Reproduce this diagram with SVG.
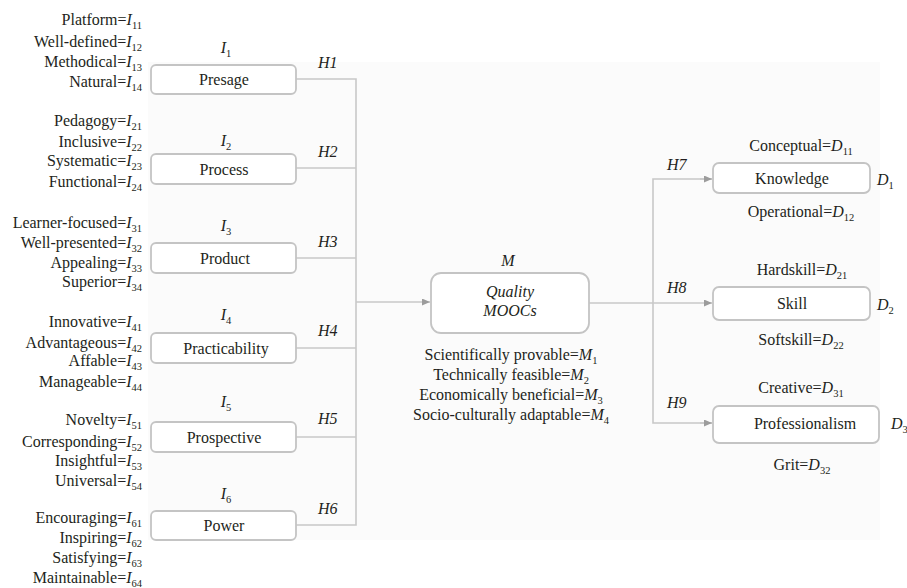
<svg xmlns="http://www.w3.org/2000/svg" width="907" height="588" viewBox="0 0 907 588" font-family="Liberation Serif, Times New Roman, serif" font-size="16">
<style>
text{font-family:"Liberation Serif","Times New Roman",serif;font-size:16px;fill:#231f20}
.l{text-anchor:end}
.m{text-anchor:middle}
.i{font-style:italic}
.n{font-style:normal}
.s{font-size:10.5px}
.box{fill:#fff;stroke:#c4c4c4;stroke-width:1.8}
.ln{fill:none;stroke:#c8c8c8;stroke-width:1.6}
</style>
<defs>
<marker id="ar" markerUnits="userSpaceOnUse" markerWidth="9" markerHeight="8" refX="8" refY="3.5" orient="auto">
<path d="M0,0 L8,3.5 L0,7 z" fill="#9c9c9c"/>
</marker>
</defs>
<rect x="148" y="62" width="732" height="478" fill="#fbfbfb"/>

<g id="connectors">
<polyline class="ln" points="296,79 356,79 356,525 296,525"/>
<line class="ln" x1="296" y1="168" x2="356" y2="168"/>
<line class="ln" x1="296" y1="258" x2="356" y2="258"/>
<line class="ln" x1="296" y1="348" x2="356" y2="348"/>
<line class="ln" x1="296" y1="437" x2="356" y2="437"/>
<line class="ln" x1="356" y1="302" x2="430" y2="302" marker-end="url(#ar)"/>
<line class="ln" x1="589" y1="303" x2="712" y2="303" marker-end="url(#ar)"/>
<polyline class="ln" points="712,179 653,179 653,423 712,423"/>
<line class="ln" x1="700" y1="179" x2="712" y2="179" marker-end="url(#ar)"/>
<line class="ln" x1="700" y1="423" x2="712" y2="423" marker-end="url(#ar)"/>
<text class="i" x="318" y="68">H1</text>
<text class="i" x="318" y="157">H2</text>
<text class="i" x="318" y="247">H3</text>
<text class="i" x="318" y="336">H4</text>
<text class="i" x="318" y="424">H5</text>
<text class="i" x="318" y="514">H6</text>
<text class="i" x="667" y="170">H7</text>
<text class="i" x="667" y="293">H8</text>
<text class="i" x="667" y="408">H9</text>
</g>

<g id="presage">
<rect class="box" x="151" y="65" width="145" height="29" rx="5"/>
<text class="m" x="224" y="85">Presage</text>
<text class="m i" x="226" y="53">I<tspan class="s n" dy="4">1</tspan></text>
<text class="l" x="142" y="25">Platform=<tspan class="i">I</tspan><tspan class="s" dy="4">11</tspan></text>
<text class="l" x="142" y="47">Well-defined=<tspan class="i">I</tspan><tspan class="s" dy="4">12</tspan></text>
<text class="l" x="142" y="67">Methodical=<tspan class="i">I</tspan><tspan class="s" dy="4">13</tspan></text>
<text class="l" x="142" y="87">Natural=<tspan class="i">I</tspan><tspan class="s" dy="4">14</tspan></text>
</g>

<g id="process">
<rect class="box" x="151" y="154" width="145" height="30" rx="5"/>
<text class="m" x="224" y="175">Process</text>
<text class="m i" x="226" y="146">I<tspan class="s n" dy="4">2</tspan></text>
<text class="l" x="142" y="126">Pedagogy=<tspan class="i">I</tspan><tspan class="s" dy="4">21</tspan></text>
<text class="l" x="142" y="147">Inclusive=<tspan class="i">I</tspan><tspan class="s" dy="4">22</tspan></text>
<text class="l" x="142" y="166">Systematic=<tspan class="i">I</tspan><tspan class="s" dy="4">23</tspan></text>
<text class="l" x="142" y="187">Functional=<tspan class="i">I</tspan><tspan class="s" dy="4">24</tspan></text>
</g>

<g id="product">
<rect class="box" x="151" y="243" width="145" height="30" rx="5"/>
<text class="m" x="225" y="264">Product</text>
<text class="m i" x="226" y="231">I<tspan class="s n" dy="4">3</tspan></text>
<text class="l" x="142" y="228">Learner-focused=<tspan class="i">I</tspan><tspan class="s" dy="4">31</tspan></text>
<text class="l" x="142" y="248">Well-presented=<tspan class="i">I</tspan><tspan class="s" dy="4">32</tspan></text>
<text class="l" x="142" y="268">Appealing=<tspan class="i">I</tspan><tspan class="s" dy="4">33</tspan></text>
<text class="l" x="142" y="287">Superior=<tspan class="i">I</tspan><tspan class="s" dy="4">34</tspan></text>
</g>

<g id="practicability">
<rect class="box" x="151" y="333" width="145" height="30" rx="5"/>
<text class="m" x="226" y="354">Practicability</text>
<text class="m i" x="226" y="320">I<tspan class="s n" dy="4">4</tspan></text>
<text class="l" x="142" y="327">Innovative=<tspan class="i">I</tspan><tspan class="s" dy="4">41</tspan></text>
<text class="l" x="142" y="348">Advantageous=<tspan class="i">I</tspan><tspan class="s" dy="4">42</tspan></text>
<text class="l" x="142" y="366">Affable=<tspan class="i">I</tspan><tspan class="s" dy="4">43</tspan></text>
<text class="l" x="142" y="387">Manageable=<tspan class="i">I</tspan><tspan class="s" dy="4">44</tspan></text>
</g>

<g id="prospective">
<rect class="box" x="151" y="422" width="145" height="30" rx="5"/>
<text class="m" x="224" y="443">Prospective</text>
<text class="m i" x="226" y="407">I<tspan class="s n" dy="4">5</tspan></text>
<text class="l" x="142" y="425">Novelty=<tspan class="i">I</tspan><tspan class="s" dy="4">51</tspan></text>
<text class="l" x="142" y="447">Corresponding=<tspan class="i">I</tspan><tspan class="s" dy="4">52</tspan></text>
<text class="l" x="142" y="466">Insightful=<tspan class="i">I</tspan><tspan class="s" dy="4">53</tspan></text>
<text class="l" x="142" y="486">Universal=<tspan class="i">I</tspan><tspan class="s" dy="4">54</tspan></text>
</g>

<g id="power">
<rect class="box" x="151" y="511" width="145" height="29" rx="5"/>
<text class="m" x="224" y="531">Power</text>
<text class="m i" x="226" y="499">I<tspan class="s n" dy="4">6</tspan></text>
<text class="l" x="142" y="523">Encouraging=<tspan class="i">I</tspan><tspan class="s" dy="4">61</tspan></text>
<text class="l" x="142" y="543">Inspiring=<tspan class="i">I</tspan><tspan class="s" dy="4">62</tspan></text>
<text class="l" x="142" y="563">Satisfying=<tspan class="i">I</tspan><tspan class="s" dy="4">63</tspan></text>
<text class="l" x="142" y="583">Maintainable=<tspan class="i">I</tspan><tspan class="s" dy="4">64</tspan></text>
</g>

<g id="quality-moocs">
<rect class="box" x="431" y="273" width="158" height="60" rx="10"/>
<text class="m i" x="508" y="266">M</text>
<text class="m i" x="510" y="297">Quality</text>
<text class="m i" x="510" y="316">MOOCs</text>
<text class="m" x="511" y="360">Scientifically provable=<tspan class="i">M</tspan><tspan class="s" dy="4">1</tspan></text>
<text class="m" x="511" y="380">Technically feasible=<tspan class="i">M</tspan><tspan class="s" dy="4">2</tspan></text>
<text class="m" x="511" y="400">Economically beneficial=<tspan class="i">M</tspan><tspan class="s" dy="4">3</tspan></text>
<text class="m" x="511" y="420">Socio-culturally adaptable=<tspan class="i">M</tspan><tspan class="s" dy="4">4</tspan></text>
</g>

<g id="knowledge">
<rect class="box" x="713" y="163" width="157" height="30" rx="6"/>
<text class="m" x="792" y="184">Knowledge</text>
<text class="i" x="877" y="185">D<tspan class="s n" dy="4">1</tspan></text>
<text class="m" x="801" y="151">Conceptual=<tspan class="i">D</tspan><tspan class="s" dy="4">11</tspan></text>
<text class="m" x="801" y="217">Operational=<tspan class="i">D</tspan><tspan class="s" dy="4">12</tspan></text>
</g>

<g id="skill">
<rect class="box" x="713" y="287" width="157" height="33" rx="6"/>
<text class="m" x="792" y="309">Skill</text>
<text class="i" x="877" y="310">D<tspan class="s n" dy="4">2</tspan></text>
<text class="m" x="802" y="275">Hardskill=<tspan class="i">D</tspan><tspan class="s" dy="4">21</tspan></text>
<text class="m" x="801" y="345">Softskill=<tspan class="i">D</tspan><tspan class="s" dy="4">22</tspan></text>
</g>

<g id="professionalism">
<rect class="box" x="713" y="406" width="166" height="37" rx="6"/>
<text class="m" x="805" y="429">Professionalism</text>
<text class="i" x="891" y="429">D<tspan class="s n" dy="4">3</tspan></text>
<text class="m" x="801" y="393">Creative=<tspan class="i">D</tspan><tspan class="s" dy="4">31</tspan></text>
<text class="m" x="802" y="470">Grit=<tspan class="i">D</tspan><tspan class="s" dy="4">32</tspan></text>
</g>
</svg>
